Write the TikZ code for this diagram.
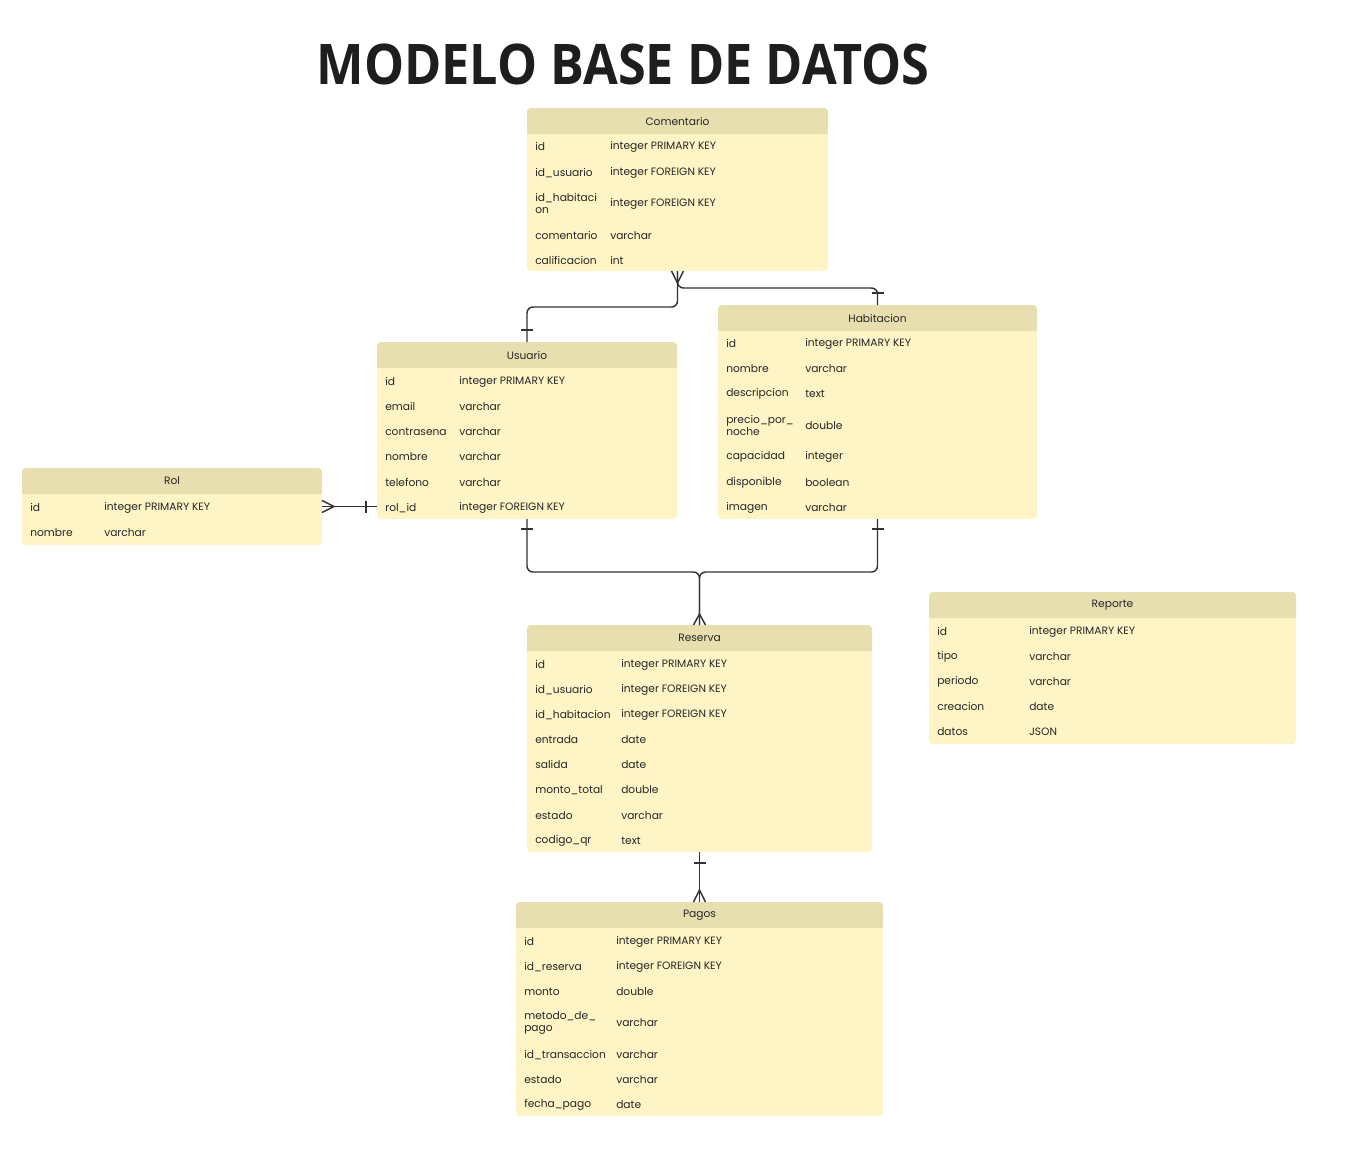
\documentclass[tikz,border=0pt]{standalone}
\usepackage{fontspec}
\setmainfont{Poppins}
\newfontfamily\titlefont[FakeStretch=0.9]{Open Sans}
\usetikzlibrary{calc}
\definecolor{cabecera}{RGB}{231,223,175}
\definecolor{cuerpo}{RGB}{255,244,197}
\definecolor{tinta}{RGB}{38,38,38}
\definecolor{linea}{RGB}{50,50,50}
\definecolor{negroTit}{RGB}{30,30,30}

% tabla: nombre, x, y, ancho, alto, titulo
\newcommand{\tabla}[6]{%
  \node[caja, minimum width=#4*0.75pt, minimum height=#5*0.75pt] (#1) at (#2,#3) {};
  \fill[cabecera, rounded corners=3pt] (#2,#3) rectangle ++(#4,26);
  \fill[cabecera] (#2,#3+14) rectangle ++(#4,12);
  \node[titulo] (#1-t) at ($(#1.north)+(0,13)$) {#6};
}

\begin{document}
\begin{tikzpicture}[
    x=0.75pt,y=-0.75pt,
    caja/.style={anchor=north west,fill=cuerpo,rounded corners=3pt,inner sep=0pt,outer sep=0pt},
    titulo/.style={font=\fontsize{8}{9.2}\selectfont,text=tinta,inner sep=0pt},
    campo/.style={anchor=west,align=left,font=\fontsize{8}{9.2}\selectfont,text=tinta,inner sep=0pt,yshift=-0.6pt},
    rel/.style={draw=linea,line width=1.1pt,rounded corners=4.5pt},
    pata/.style={draw=linea,line width=1.1pt}
  ]
  \useasboundingbox (0,0) rectangle (1348,1158);

  \node[font=\titlefont\bfseries\fontsize{42}{48}\selectfont,text=negroTit]
    (tituloDiag) at (623,64) {MODELO BASE DE DATOS};

  % --- tablas
  \tabla{comentario}{527}{108}{301}{163}{Comentario}
  \foreach \yy/\k/\t [count=\i] in {146/id/integer PRIMARY KEY,
      172/id\_usuario/integer FOREIGN KEY,
      203/{id\_habitaci\\on}/integer FOREIGN KEY,
      235/comentario/varchar,260/calificacion/int}{
    \node[campo] (comentario-c\i) at (535,\yy) {\k};
    \node[campo] (comentario-v\i) at (610,\yy) {\t};
  }

  \tabla{habitacion}{718}{305}{319}{214}{Habitacion}
  \foreach \yy/\k/\t [count=\i] in {343/id/integer PRIMARY KEY,
      368/nombre/varchar,393/descripcion/text,
      425/{precio\_por\_\\noche}/double,
      456/capacidad/integer,482/disponible/boolean,507/imagen/varchar}{
    \node[campo] (habitacion-c\i) at (726,\yy) {\k};
    \node[campo] (habitacion-v\i) at (805,\yy) {\t};
  }

  \tabla{usuario}{377}{342}{300}{177}{Usuario}
  \foreach \yy/\k/\t [count=\i] in {381/id/integer PRIMARY KEY,
      406/email/varchar,431/contrasena/varchar,456/nombre/varchar,
      482/telefono/varchar,507/rol\_id/integer FOREIGN KEY}{
    \node[campo] (usuario-c\i) at (385,\yy) {\k};
    \node[campo] (usuario-v\i) at (459,\yy) {\t};
  }

  \tabla{rol}{22}{468}{300}{77}{Rol}
  \foreach \yy/\k/\t [count=\i] in {507/id/integer PRIMARY KEY,
      532/nombre/varchar}{
    \node[campo] (rol-c\i) at (30,\yy) {\k};
    \node[campo] (rol-v\i) at (104,\yy) {\t};
  }

  \tabla{reserva}{527}{625}{345}{227}{Reserva}
  \foreach \yy/\k/\t [count=\i] in {664/id/integer PRIMARY KEY,
      689/id\_usuario/integer FOREIGN KEY,
      714/id\_habitacion/integer FOREIGN KEY,
      739/entrada/date,764/salida/date,789/monto\_total/double,
      815/estado/varchar,840/codigo\_qr/text}{
    \node[campo] (reserva-c\i) at (535,\yy) {\k};
    \node[campo] (reserva-v\i) at (621,\yy) {\t};
  }

  \tabla{reporte}{929}{592}{367}{152}{Reporte}
  \foreach \yy/\k/\t [count=\i] in {631/id/integer PRIMARY KEY,
      656/tipo/varchar,681/periodo/varchar,706/creacion/date,731/datos/JSON}{
    \node[campo] (reporte-c\i) at (937,\yy) {\k};
    \node[campo] (reporte-v\i) at (1029,\yy) {\t};
  }

  \tabla{pagos}{516}{902}{367}{214}{Pagos}
  \foreach \yy/\k/\t [count=\i] in {941/id/integer PRIMARY KEY,
      966/id\_reserva/integer FOREIGN KEY,991/monto/double,
      1022/{metodo\_de\_\\pago}/varchar,
      1054/id\_transaccion/varchar,1079/estado/varchar,1104/fecha\_pago/date}{
    \node[campo] (pagos-c\i) at (524,\yy) {\k};
    \node[campo] (pagos-v\i) at (616,\yy) {\t};
  }

  % --- relaciones
  \draw[rel] (comentario.south) -- ++(0,36) -| (usuario.north);
  \draw[rel] (comentario.south) -- ++(0,17) -| (habitacion.north);
  \draw[pata] ($(comentario.south)+(-6,0)$) -- ++(6,12) -- ++(6,-12);
  \draw[pata] ($(usuario.north)+(-6,-12)$) -- ++(12,0);
  \draw[pata] ($(habitacion.north)+(-6,-12)$) -- ++(12,0);

  \draw[rel] (rol.east) -- (rol.east -| usuario.west);
  \draw[pata] ($(rol.east)+(0,-6)$) -- ++(12,6) -- ++(-12,6);
  \draw[pata] ($(rol.east -| usuario.west)+(-11,-6)$) -- ++(0,12);

  \draw[rel] (usuario.south) -- ++(0,53) -| (reserva.north);
  \draw[rel] (habitacion.south) -- ++(0,53) -| (reserva.north);
  \draw[pata] ($(usuario.south)+(-6,10)$) -- ++(12,0);
  \draw[pata] ($(habitacion.south)+(-6,10)$) -- ++(12,0);
  \draw[pata] ($(reserva.north)+(-6,0)$) -- ++(6,-11) -- ++(6,11);

  \draw[rel] (reserva.south) -- (pagos.north);
  \draw[pata] ($(reserva.south)+(-6,11)$) -- ++(12,0);
  \draw[pata] ($(pagos.north)+(-6,0)$) -- ++(6,-12) -- ++(6,12);
\end{tikzpicture}
\end{document}
